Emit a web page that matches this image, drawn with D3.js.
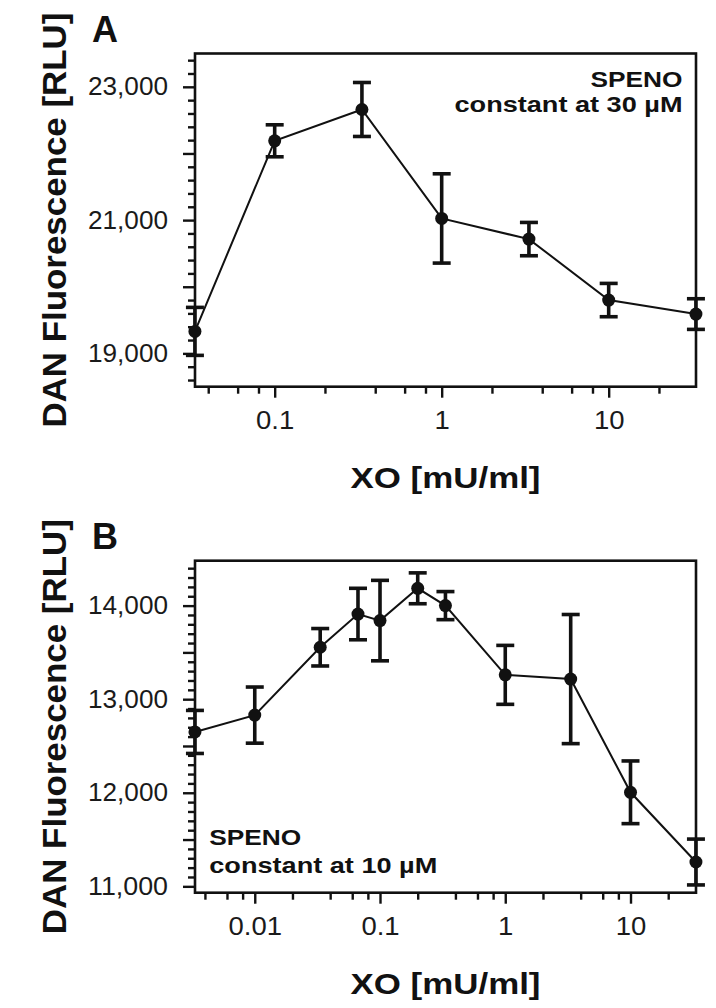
<!DOCTYPE html>
<html><head><meta charset="utf-8">
<script src="https://cdn.jsdelivr.net/npm/d3@7/dist/d3.min.js"></script>
<style>body{margin:0;background:#fff}svg{display:block}</style>
</head><body>
<svg id="c" width="716" height="1008"></svg>
<script>
// ---- data ----
const xA = [0.0333, 0.1, 0.333, 1, 3.33, 10, 33.3];
const yA = [19330, 22190, 22660, 21025, 20715, 19800, 19590];
const eA = [360, 240, 405, 670, 250, 250, 230];

const xB = [0.00333, 0.01, 0.0333, 0.0667, 0.1, 0.2, 0.333, 1, 3.33, 10, 33.3];
const yB = [12650, 12830, 13555, 13910, 13840, 14185, 14000, 13260, 13215, 12005, 11260];
const eB = [230, 300, 200, 275, 430, 165, 150, 315, 690, 335, 245];

const xTickLabelsA = [0.1, 1, 10];
const xTickLabelsB = [0.01, 0.1, 1, 10];
const yTickLabelsA = [19000, 21000, 23000];
const yTickLabelsB = [11000, 12000, 13000, 14000];

const panelLetters = ["A", "B"];
const notes = [["SPENO", "constant at 30 µM"], ["SPENO", "constant at 10 µM"]];
const yTitle = "DAN Fluorescence [RLU]";
const xTitle = "XO [mU/ml]";

// ---- layout ----
const FONT = "'Liberation Sans', Arial, Helvetica, sans-serif";
const svg = d3.select("#c");
const left = 195, right = 696;

const panels = [
  {x: xA, y: yA, e: eA, xl: xTickLabelsA, yl: yTickLabelsA, top: 53.5, bottom: 386.7,
   xdom: [1/30, 100/3], ydom: [18500, 23500], yMajor: 1000, yMinor: 200,
   letter: panelLetters[0], note: notes[0], noteAlign: "end"},
  {x: xB, y: yB, e: eB, xl: xTickLabelsB, yl: yTickLabelsB, top: 560.7, bottom: 892.7,
   xdom: [1/300, 100/3], ydom: [10932, 14480], yMajor: 500, yMinor: 100,
   letter: panelLetters[1], note: notes[1], noteAlign: "start"}
];

panels.forEach(p => {
  const g = svg.append("g");
  const xs = d3.scaleLog().domain(p.xdom).range([left, right]);
  const ys = d3.scaleLinear().domain(p.ydom).range([p.bottom, p.top]);

  // minor x ticks: 2,4,6,8 x decade
  const xMinor = [];
  for (let d = -3; d <= 1; d++) [2,4,6,8].forEach(m => {
    const v = m * Math.pow(10, d);
    if (v > p.xdom[0] && v < p.xdom[1]) xMinor.push(v);
  });
  const yMinorVals = d3.range(Math.ceil(p.ydom[0]/p.yMinor)*p.yMinor, p.ydom[1], p.yMinor)
    .filter(v => Math.abs(v/p.yMajor - Math.round(v/p.yMajor)) > 1e-6);
  const yMajorVals = d3.range(Math.ceil(p.ydom[0]/p.yMajor)*p.yMajor, p.ydom[1], p.yMajor);

  const styleAxis = sel => {
    sel.select(".domain").remove();
    sel.selectAll("line").attr("stroke", "#111").attr("stroke-width", 2.4);
    sel.selectAll("text").attr("font-family", FONT).attr("font-size", 25).attr("fill", "#1a1a1a")
      .each(function() {
        const t = this.textContent;
        if (!t) return;
        const w = t.includes(",") ? 80 : this.getComputedTextLength() * 1.1;
        d3.select(this).attr("textLength", w).attr("lengthAdjust", "spacingAndGlyphs");
      });
  };

  // y axis ticks
  g.append("g").attr("transform", `translate(${left},0)`)
    .call(d3.axisLeft(ys).tickValues(yMinorVals).tickSize(7).tickFormat("")).call(styleAxis);
  g.append("g").attr("transform", `translate(${left},0)`)
    .call(d3.axisLeft(ys).tickValues(yMajorVals).tickSize(12)
      .tickFormat(v => p.yl.includes(v) ? d3.format(",")(v) : "").tickPadding(15))
    .call(styleAxis);

  // x axis ticks
  g.append("g").attr("transform", `translate(0,${p.bottom})`)
    .call(d3.axisBottom(xs).tickValues(xMinor).tickSize(7).tickFormat("")).call(styleAxis);
  g.append("g").attr("transform", `translate(0,${p.bottom})`)
    .call(d3.axisBottom(xs).tickValues(p.xl).tickSize(11).tickPadding(14)
      .tickFormat(v => String(v))).call(styleAxis);

  // frame
  g.append("rect").attr("x", left).attr("y", p.top)
    .attr("width", right - left).attr("height", p.bottom - p.top)
    .attr("fill", "none").attr("stroke", "#111").attr("stroke-width", 2.6);

  const pts = p.x.map((xv, i) => ({x: xv, y: p.y[i], e: p.e[i]}));

  // line
  g.append("path").datum(pts)
    .attr("d", d3.line().x(d => xs(d.x)).y(d => ys(d.y)))
    .attr("fill", "none").attr("stroke", "#111").attr("stroke-width", 2);

  // error bars
  const eb = g.append("g").attr("stroke", "#111").attr("stroke-width", 3.6);
  pts.forEach(d => {
    const cx = xs(d.x), y1 = ys(d.y + d.e), y0 = ys(d.y - d.e);
    eb.append("line").attr("x1", cx).attr("x2", cx).attr("y1", y1).attr("y2", y0);
    eb.append("line").attr("x1", cx - 9).attr("x2", cx + 9).attr("y1", y1).attr("y2", y1);
    eb.append("line").attr("x1", cx - 9).attr("x2", cx + 9).attr("y1", y0).attr("y2", y0);
  });

  // markers
  g.selectAll("circle.pt").data(pts).join("circle")
    .attr("cx", d => xs(d.x)).attr("cy", d => ys(d.y)).attr("r", 6.5).attr("fill", "#111");

  // panel letter
  g.append("text").attr("x", 92).attr("y", p.top - 11.8).text(p.letter)
    .attr("font-family", FONT).attr("font-weight", "bold").attr("font-size", 36).attr("fill", "#111");

  // y title
  const cy = (p.top + p.bottom) / 2;
  g.append("text").attr("transform", `translate(65.5,${cy}) rotate(-90)`)
    .attr("text-anchor", "middle").text(yTitle)
    .attr("textLength", 415).attr("lengthAdjust", "spacingAndGlyphs")
    .attr("font-family", FONT).attr("font-weight", "bold").attr("font-size", 33).attr("fill", "#111");

  // x title
  g.append("text").attr("x", (left + right) / 2).attr("y", p.bottom + 101.6)
    .attr("text-anchor", "middle").text(xTitle)
    .attr("textLength", 190).attr("lengthAdjust", "spacingAndGlyphs")
    .attr("font-family", FONT).attr("font-weight", "bold").attr("font-size", 30).attr("fill", "#111");

  // note
  const nx = p.noteAlign === "end" ? 682.5 : 209.3;
  const ny = p.noteAlign === "end" ? [87.3, 111.7] : [845, 873.3];
  const nw = [92, 228];
  p.note.forEach((t, i) => {
    g.append("text").attr("x", nx).attr("y", ny[i]).attr("text-anchor", p.noteAlign)
      .text(t).attr("textLength", nw[i]).attr("lengthAdjust", "spacingAndGlyphs")
      .attr("font-family", FONT).attr("font-weight", "bold").attr("font-size", 22).attr("fill", "#111");
  });
});
</script>
</body></html>
